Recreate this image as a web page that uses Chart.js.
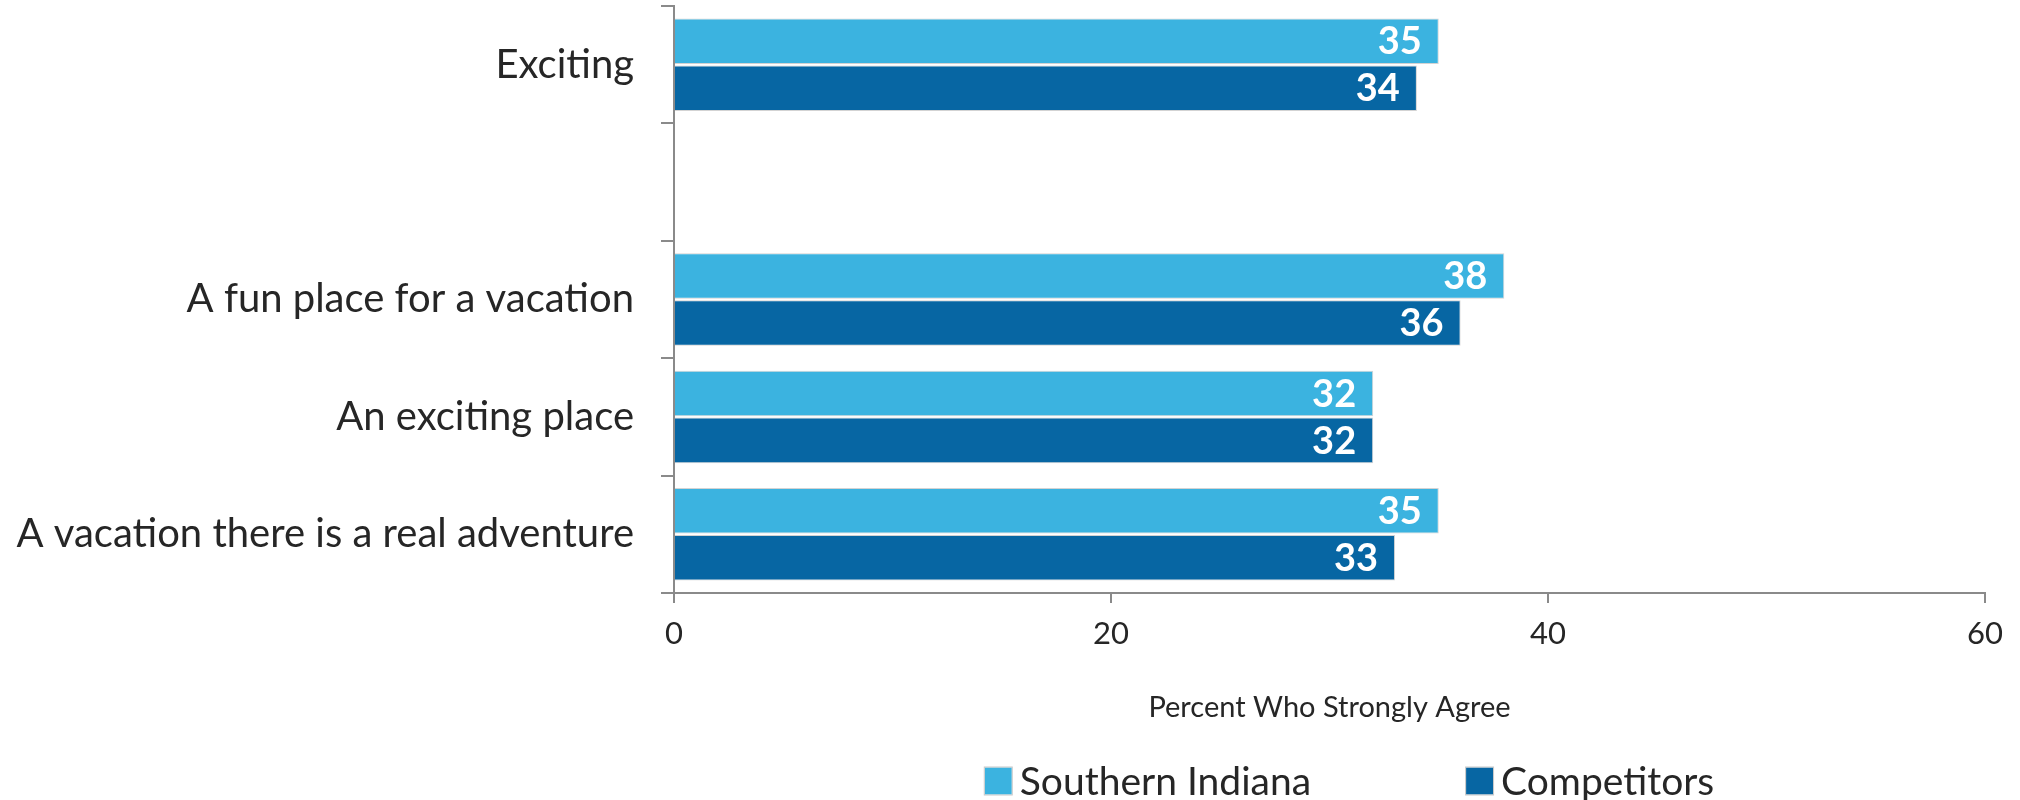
<!DOCTYPE html>
<html>
<head>
<meta charset="utf-8">
<title>Percent Who Strongly Agree</title>
<script src="https://cdn.jsdelivr.net/npm/chart.js@4"></script>
<style>
  html, body { margin: 0; padding: 0; background: #fff; }
  #wrap { width: 2020px; height: 800px; }
</style>
</head>
<body>
<div id="wrap"><canvas id="myChart" width="2020" height="800"></canvas></div>
<script>
// Chart data
const categories = ['Exciting', '', 'A fun place for a vacation', 'An exciting place', 'A vacation there is a real adventure'];
const southernIndiana = [35, null, 38, 32, 35];
const competitors = [34, null, 36, 32, 33];
const xTicks = [0, 20, 40, 60];
const seriesNames = ['Southern Indiana', 'Competitors'];

const LIGHT = 'rgb(59,179,224)';
const DARK = 'rgb(7,102,163)';
const AXIS = '#8a8a8a';
const TEXT = '#262626';
const FONT = 'Lato, "Open Sans", sans-serif';

// white value labels at the end of each bar
const valueLabels = {
    id: 'valueLabels',
    afterDatasetsDraw(chart) {
        const ctx = chart.ctx;
        ctx.save();
        ctx.font = 'bold 38px ' + FONT;
        ctx.fillStyle = '#fff';
        ctx.textAlign = 'right';
        ctx.textBaseline = 'middle';
        chart.data.datasets.forEach((ds, i) => {
            chart.getDatasetMeta(i).data.forEach((bar, j) => {
                const v = ds.data[j];
                if (v === null) return;
                ctx.fillText(String(v), bar.x - 17, bar.y + 1);
            });
        });
        ctx.restore();
    }
};

// legend under the axis title
const bottomLegend = {
    id: 'bottomLegend',
    afterDraw(chart) {
        const ctx = chart.ctx;
        const area = chart.chartArea;
        const box = 27, gap = 8, spacing = 155;
        ctx.save();
        ctx.font = '39px ' + FONT;
        ctx.textBaseline = 'middle';
        const items = chart.data.datasets.map(ds => ({
            label: ds.label,
            color: ds.backgroundColor,
            w: box + gap + ctx.measureText(ds.label).width
        }));
        const total = items.reduce((s, it) => s + it.w, 0) + spacing * (items.length - 1);
        let x = (area.left + area.right) / 2 + 20 - total / 2;
        const y = 781;
        items.forEach(it => {
            ctx.fillStyle = it.color;
            ctx.fillRect(x, y - box / 2, box, box);
            ctx.strokeStyle = '#c8c8c8';
            ctx.lineWidth = 1;
            ctx.strokeRect(x - 0.5, y - box / 2 - 0.5, box + 1, box + 1);
            ctx.fillStyle = TEXT;
            ctx.textAlign = 'left';
            ctx.fillText(it.label, x + box + gap, y + 1);
            x += it.w + spacing;
        });
        ctx.restore();
    }
};

const ctx = document.getElementById('myChart').getContext('2d');
const myChart = new Chart(ctx, {
    type: 'bar',
    data: {
        labels: categories,
        datasets: [{
            label: seriesNames[0],
            data: southernIndiana,
            backgroundColor: LIGHT,
            borderColor: 'rgba(200,200,200,0.8)',
            borderWidth: 1,
            categoryPercentage: 0.8,
            barPercentage: 0.97
        }, {
            label: seriesNames[1],
            data: competitors,
            backgroundColor: DARK,
            borderColor: 'rgba(200,200,200,0.8)',
            borderWidth: 1,
            categoryPercentage: 0.8,
            barPercentage: 0.97
        }]
    },
    options: {
        indexAxis: 'y',
        responsive: false,
        animation: false,
        layout: { padding: { top: 6, right: 35, bottom: 0, left: 0 } },
        plugins: {
            legend: { display: false },
            tooltip: { enabled: false }
        },
        scales: {
            x: {
                min: 0,
                max: 60,
                afterBuildTicks(scale) {
                    scale.ticks = xTicks.map(v => ({ value: v }));
                },
                afterFit(scale) {
                    scale.height = 207;
                    scale.paddingLeft = 0;
                    scale.paddingRight = 0;
                },
                grid: { drawOnChartArea: false, drawTicks: true, tickLength: 10, color: AXIS, lineWidth: 2 },
                border: { color: AXIS, width: 2 },
                ticks: { font: { family: FONT, size: 31 }, color: TEXT, padding: 12 },
                title: {
                    display: true,
                    text: 'Percent Who Strongly Agree',
                    font: { family: FONT, size: 29 },
                    color: TEXT,
                    padding: { top: 0, bottom: 75 }
                }
            },
            y: {
                afterFit(scale) {
                    scale.width = 674;
                    scale.paddingTop = 0;
                    scale.paddingBottom = 0;
                },
                grid: { drawOnChartArea: false, drawTicks: true, tickLength: 13, color: AXIS, lineWidth: 2, offset: true },
                border: { color: AXIS, width: 2 },
                ticks: { font: { family: FONT, size: 40 }, color: TEXT, padding: 27 }
            }
        }
    },
    plugins: [valueLabels, bottomLegend]
});
</script>
</body>
</html>
